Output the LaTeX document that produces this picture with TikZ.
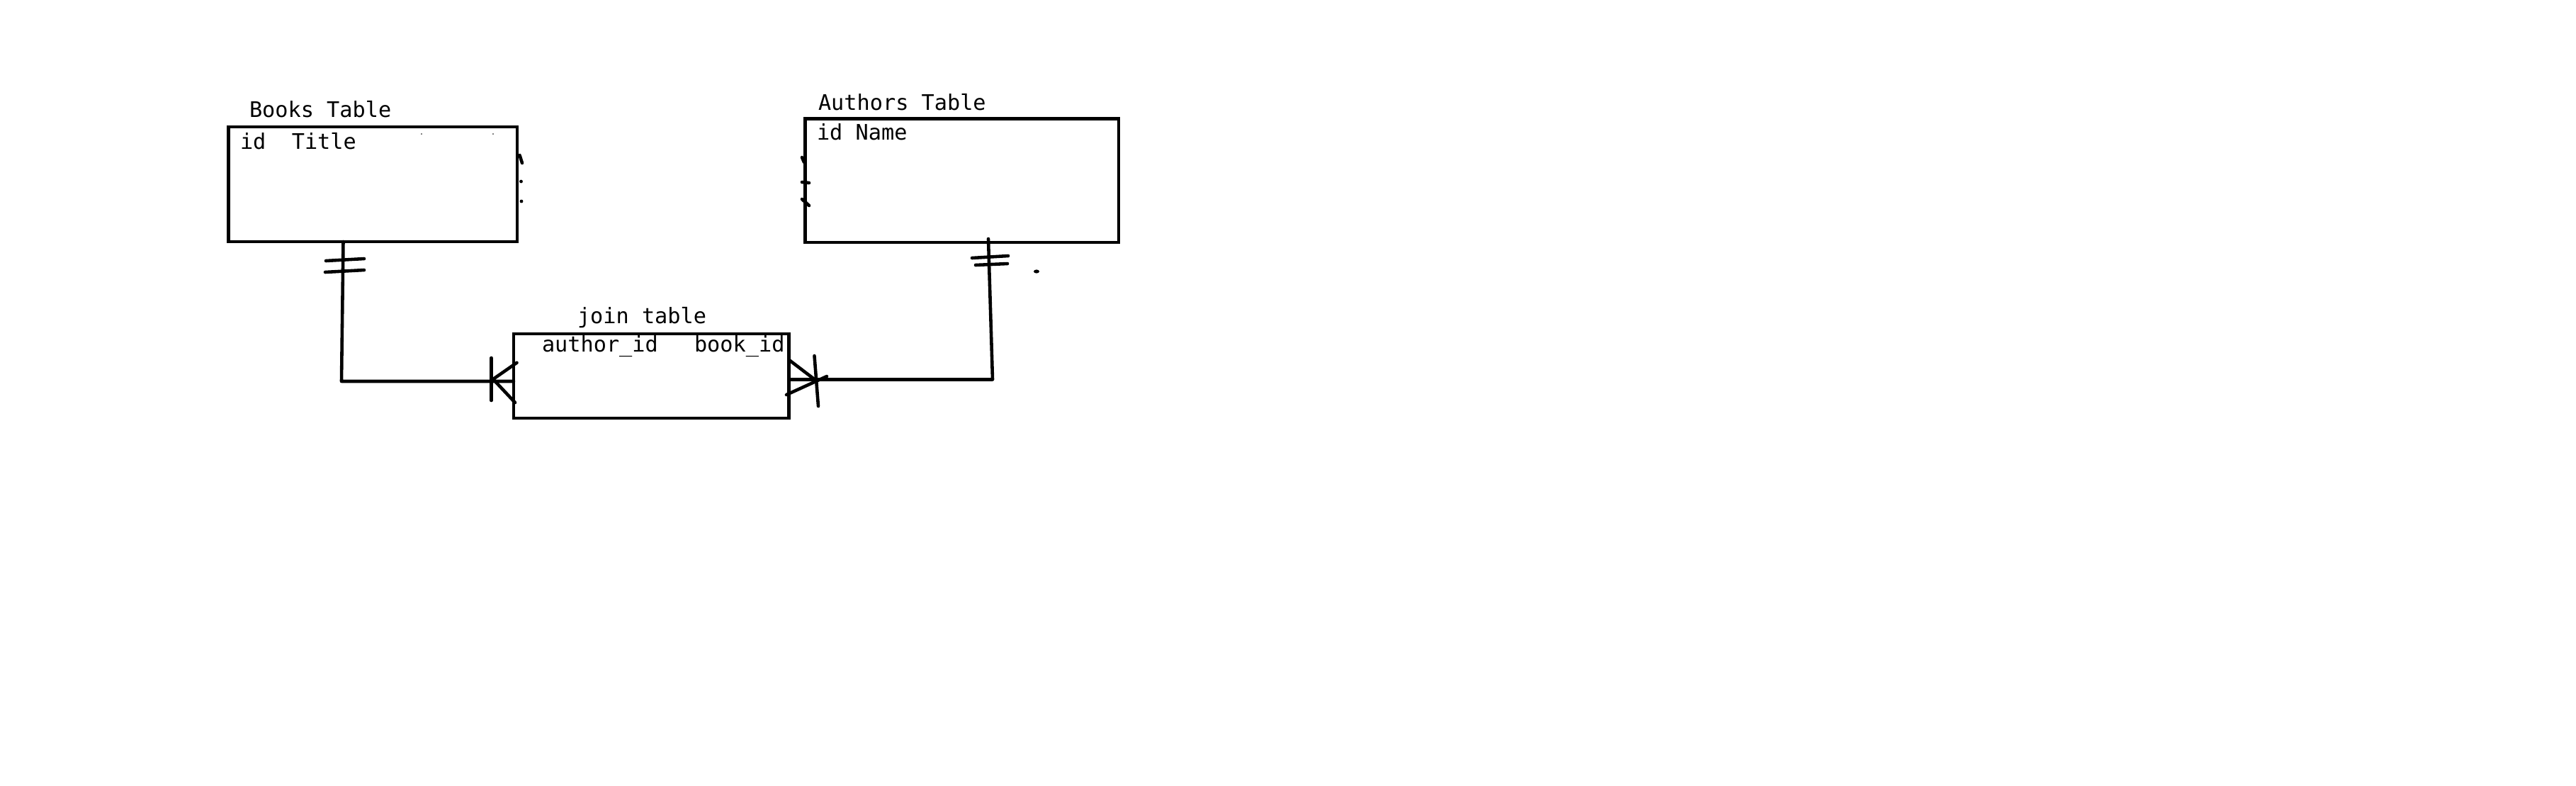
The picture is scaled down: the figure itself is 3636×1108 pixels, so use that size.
\documentclass[tikz,border=0pt]{standalone}
\usepackage{fontspec}
\newfontfamily\diagfont{DejaVu Sans Mono}
\tikzset{
  tbl/.style={draw=black, line width=1.3pt, inner sep=0pt, outer sep=0pt, anchor=north west},
  lbl/.style={inner sep=0pt, outer sep=0pt, anchor=base west, font=\diagfont\fontsize{8.6pt}{10pt}\selectfont},
  conn/.style={draw=black, line width=1.3pt, line cap=round, line join=round},
  tick/.style={draw=black, line width=1.3pt, line cap=round},
  blob/.style={fill=black}
}
\begin{document}
\begin{tikzpicture}[x=0.01cm,y=-0.01cm]
\useasboundingbox (0,0) rectangle (3636,1108);
\fill[white] (0,0) rectangle (3636,1108);

% tables
\node[tbl, minimum width=4.07cm, minimum height=1.62cm] (books) at (322.7,179) {};
\node[tbl, minimum width=4.42cm, minimum height=1.74cm] (authors) at (1136.7,167.7) {};
\node[tbl, minimum width=3.885cm, minimum height=1.19cm] (join) at (725,471) {};

% labels
\node[lbl] (booksT) at (352,165) {Books Table};
\node[lbl] (booksF) at (339,210.7) {id\ \ Title};
\node[lbl] (authT) at (1155,155) {Authors Table};
\node[lbl] (authF) at (1153,197.7) {id Name};
\node[lbl] (joinT) at (815,456.7) {join table};
\node[lbl] (joinA) at (765,496.7) {author\_id};
\node[lbl] (joinB) at (980,496.7) {book\_id};

% connectors
\coordinate (bk) at (482,538);
\coordinate (bkt) at (484.5,341);
\draw[conn] (bkt) -- (bk) -- (join.west |- bk);
\coordinate (ak) at (1401,535.5);
\coordinate (akt) at (1395,337);
\draw[conn] (akt) -- (ak) -- (join.east |- ak);

% books "one" bars
\draw[tick] (460,368) -- (514,365);
\draw[tick] (459,384) -- (514,381);
% authors "one" bars
\draw[tick] (1372,364) -- (1423,361);
\draw[tick] (1377,374) -- (1422,372);

% crow's foot at join left
\draw[tick] (693.5,505) -- (693.5,565);
\draw[tick] (729.5,511.7) -- (696,535) -- (727,568);
% crow's foot at join right
\draw[tick] (1149.5,502) -- (1155,573);
\draw[tick] (1114,508) -- (1152,537);
\draw[tick] (1110,557) -- (1167,531);

% stray marks
\draw[tick] (733.5,219) -- (737,230);
\fill[blob] (735.5,256) circle (2.4);
\fill[blob] (736,284) circle (2.4);
\fill[blob] (595,189) circle (0.9);
\fill[blob] (696,189) circle (0.9);
\draw[tick] (1132,222) -- (1135,229);
\draw[tick] (1132,257) -- (1142,258);
\draw[tick] (1132,281) -- (1142,290);
\fill[blob] (1463,383) ellipse (4 and 2.6);
\end{tikzpicture}
\end{document}
